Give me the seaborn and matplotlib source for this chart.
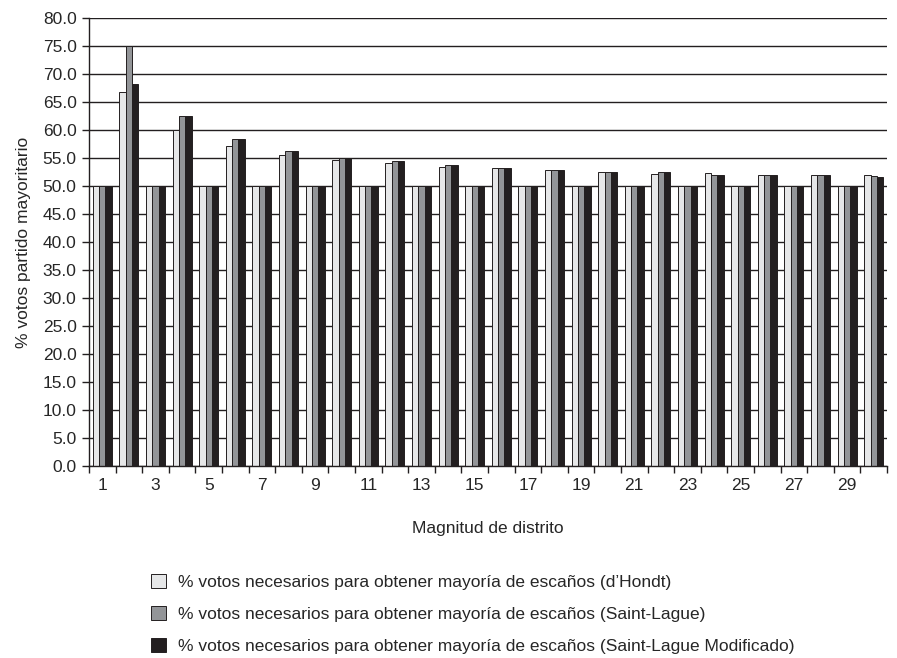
import numpy as np
import pandas as pd
import matplotlib
matplotlib.use("Agg")
import matplotlib.pyplot as plt
import seaborn as sns

# --- Datos ---
magnitudes = list(range(1, 31))

dhondt = [50.0, 66.7, 50.0, 60.0, 50.0, 57.2, 50.0, 55.6, 50.0, 54.6,
          50.0, 54.1, 50.0, 53.4, 50.0, 53.2, 50.0, 52.8, 50.0, 52.5,
          50.0, 52.2, 50.0, 52.3, 50.0, 51.9, 50.0, 51.9, 50.0, 52.0]

saint_lague = [50.0, 75.0, 50.0, 62.5, 50.0, 58.4, 50.0, 56.3, 50.0, 55.0,
               50.0, 54.5, 50.0, 53.8, 50.0, 53.2, 50.0, 52.8, 50.0, 52.5,
               50.0, 52.5, 50.0, 51.9, 50.0, 51.9, 50.0, 51.9, 50.0, 51.7]

saint_lague_mod = [50.0, 68.2, 50.0, 62.5, 50.0, 58.4, 50.0, 56.3, 50.0, 55.0,
                   50.0, 54.5, 50.0, 53.8, 50.0, 53.2, 50.0, 52.8, 50.0, 52.5,
                   50.0, 52.5, 50.0, 51.9, 50.0, 51.9, 50.0, 51.9, 50.0, 51.6]

series_names = [
    "% votos necesarios para obtener mayoría de escaños (d\u2019Hondt)",
    "% votos necesarios para obtener mayoría de escaños (Saint-Lague)",
    "% votos necesarios para obtener mayoría de escaños (Saint-Lague Modificado)",
]
colores = ["#e6e7e8", "#939598", "#231f20"]

# Tabla larga para seaborn
df = pd.DataFrame({
    "magnitud": magnitudes * 3,
    "valor": dhondt + saint_lague + saint_lague_mod,
    "metodo": [series_names[0]] * 30 + [series_names[1]] * 30 + [series_names[2]] * 30,
})

sns.set_style("ticks")
plt.rcParams["font.family"] = ["Liberation Sans", "DejaVu Sans"]
FS = 12.5

fig = plt.figure(figsize=(8.97, 6.58), dpi=100)
ax = fig.add_axes([89 / 897, 1 - 466 / 658, (887 - 89) / 897, (466 - 18) / 658])

sns.barplot(data=df, x="magnitud", y="valor", hue="metodo",
            palette=colores, width=0.72, edgecolor="#231f20",
            linewidth=0.7, saturation=1, ax=ax, legend=True)

# Ejes
ax.set_ylim(0, 80)
ax.set_xlim(-0.5, 29.5)
ax.set_yticks(np.arange(0, 80.1, 5))
ax.set_yticklabels([f"{v:.1f}" for v in np.arange(0, 80.1, 5)], fontsize=FS)
ax.yaxis.grid(True, color="#231f20", linewidth=1)
ax.set_axisbelow(True)

ax.set_xticks(np.arange(-0.5, 30, 1))
ax.set_xticklabels([])
ax.set_xticks(np.arange(0, 30, 2), labels=[str(m) for m in magnitudes[::2]], minor=True)
ax.tick_params(axis="x", which="major", length=5, width=1, color="#231f20", direction="out")
ax.tick_params(axis="x", which="minor", length=0, labelsize=FS, pad=9)
ax.tick_params(axis="y", length=5, width=1, color="#231f20", direction="out", pad=4)

for lado in ["top", "right"]:
    ax.spines[lado].set_visible(False)
for lado in ["left", "bottom"]:
    ax.spines[lado].set_color("#231f20")
    ax.spines[lado].set_linewidth(1)

ax.set_xlabel("Magnitud de distrito", fontsize=FS, labelpad=20)
ax.set_ylabel("% votos partido mayoritario", fontsize=FS, labelpad=8)

# Leyenda debajo del gráfico
handles, labels = ax.get_legend_handles_labels()
ax.get_legend().remove()
fig.legend(handles, labels, loc="upper left", bbox_to_anchor=(0.159, 0.141),
           frameon=False, fontsize=FS, handlelength=0.85, handleheight=0.85,
           handletextpad=0.7, labelspacing=0.93, borderpad=0)

fig.savefig("out.png", dpi=100)
print("Gráfico 'out.png' guardado.")
